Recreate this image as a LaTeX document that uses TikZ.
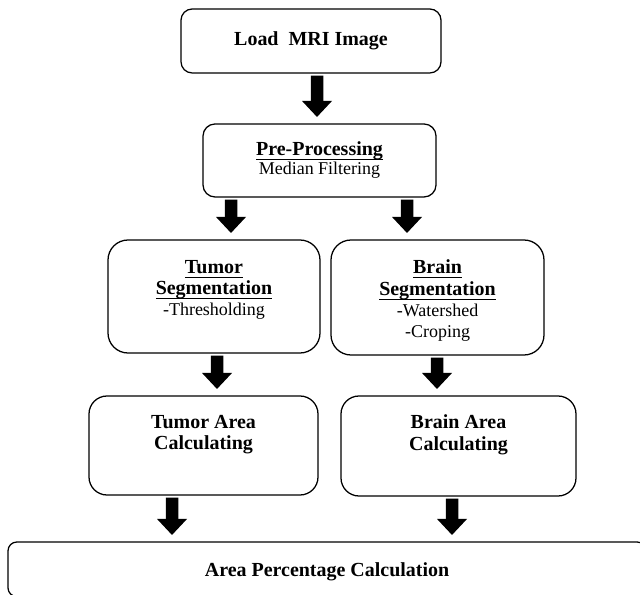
\documentclass[tikz,border=0pt]{standalone}
\usepackage{fontspec}
\setmainfont{Liberation Serif}
\usetikzlibrary{arrows.meta}

\newcommand{\hdfont}{\fontsize{14.2pt}{15.4pt}\selectfont\bfseries}
\newcommand{\txfont}{\fontsize{12.8pt}{14.9pt}\selectfont}
\newsavebox{\ulbox}
\newcommand{\uword}[1]{\leavevmode\sbox{\ulbox}{#1}\rlap{\rule[-3.2pt]{\wd\ulbox}{0.8pt}}\usebox{\ulbox}}

\tikzset{
  stage/.style={draw, line width=0.9pt, rounded corners=#1, inner sep=0pt},
  stage/.default=0.3cm,
  blockarr/.style={line width=0.3125cm, -{Triangle[width=0.75cm,length=0.4cm,line width=0pt]},
    shorten <=0.05cm, shorten >=0.16cm}
}

\begin{document}
\begin{tikzpicture}
    \useasboundingbox (0,0) rectangle (16,14.875);
    \clip (0,0) rectangle (16,14.875);

    \node[stage=0.28cm, minimum width=6.5cm, minimum height=1.6cm, font=\hdfont] (load) at (7.775,13.85) {Load~~MRI Image};
    \node[stage=0.3cm] (pre) at (7.9875,10.8625) {\parbox[c][1.825cm][c]{5.825cm}{\centering
      {\hdfont\uword{Pre-Processing}\par}{\fontsize{12.8pt}{13.5pt}\selectfont Median Filtering\par}}};

    \node[stage=0.5cm] (tseg) at (5.35,7.4625) {\parbox[c][2.825cm][t]{5.3cm}{\centering\vspace*{14.3pt}
      {\hdfont\uword{Tumor}\par\uword{Segmentation}\par}{\txfont -Thresholding\par}}};
    \node[stage=0.5cm] (bseg) at (10.9375,7.4375) {\parbox[c][2.875cm][t]{5.325cm}{\centering\vspace*{14.3pt}
      {\hdfont\uword{Brain}\par\uword{Segmentation}\par}{\txfont -Watershed\par -Croping\par}}};

    \node[stage=0.45cm] (tarea) at (5.0875,3.7375) {\parbox[c][2.475cm][t]{5.725cm}{\centering\vspace*{13.6pt}
      {\hdfont Tumor Area\par Calculating\par}}};
    \node[stage=0.45cm] (barea) at (11.4625,3.725) {\parbox[c][2.5cm][t]{5.875cm}{\centering\vspace*{13.6pt}
      {\hdfont Brain Area\par Calculating\par}}};

    \node[stage=0.22cm, minimum width=15.95cm, minimum height=1.365cm, text depth=0pt, font=\hdfont] (calc) at (8.175,0.6425) {Area Percentage Calculation};

    \draw[blockarr] ([xshift=0.15cm]load.south) -- ([xshift=-0.0625cm]pre.north);
    \draw[blockarr] ([xshift=-2.2125cm]pre.south) -- ([xshift=0.425cm]tseg.north);
    \draw[blockarr] ([xshift=2.1875cm]pre.south) -- ([xshift=-0.7625cm]bseg.north);
    \draw[blockarr] ([xshift=0.075cm]tseg.south) -- ([xshift=0.3375cm]tarea.north);
    \draw[blockarr] ([xshift=-0.0125cm]bseg.south) -- ([xshift=-0.5375cm]barea.north);
    \draw[blockarr] ([xshift=-0.7875cm]tarea.south) -- ([xshift=-3.875cm]calc.north);
    \draw[blockarr] ([xshift=-0.1625cm]barea.south) -- ([xshift=3.125cm]calc.north);
\end{tikzpicture}
\end{document}
